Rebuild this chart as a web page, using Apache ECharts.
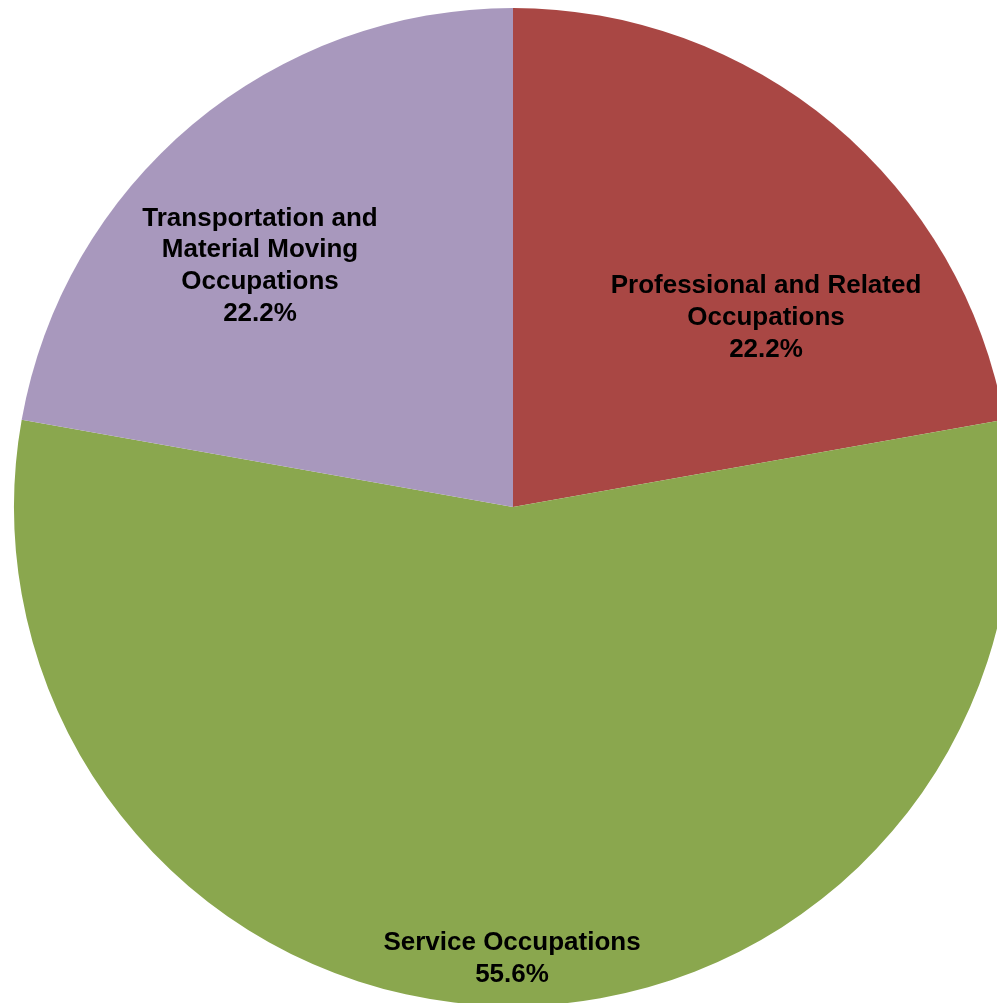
<!DOCTYPE html>
<html>
<head>
<meta charset="utf-8">
<script src="https://cdn.jsdelivr.net/npm/echarts@6/dist/echarts.min.js"></script>
<style>
html,body{margin:0;padding:0;background:#fff;}
#chart{width:997px;height:1003px;}
</style>
</head>
<body>
<div id="chart"></div>
<script>
const categories = ['Professional and Related\nOccupations', 'Service Occupations', 'Transportation and\nMaterial Moving\nOccupations'];
const values = [22.2, 55.6, 22.2];
const colors = ['#A94744', '#8AA74E', '#A898BD'];
const labelPos = [[766, 318], [512, 959], [260, 266]];

const chart = echarts.init(document.getElementById('chart'), null, {renderer: 'canvas'});
chart.setOption({
  animation: false,
  backgroundColor: '#ffffff',
  series: [{
    type: 'pie',
    center: [513, 507],
    radius: [0, 499],
    startAngle: 90,
    clockwise: true,
    data: categories.map((c, i) => ({name: c, value: values[i], itemStyle: {color: colors[i]}})),
    itemStyle: {borderWidth: 0},
    label: {
      show: true,
      position: 'inside',
      formatter: p => p.name + '\n' + p.value.toFixed(1) + '%',
      fontFamily: 'Arial',
      fontWeight: 'bold',
      fontSize: 26,
      lineHeight: 31.7,
      color: '#000',
      align: 'center',
      verticalAlign: 'middle'
    },
    labelLine: {show: false},
    labelLayout: function (params) {
      const p = labelPos[params.dataIndex];
      return {x: p[0], y: p[1], align: 'center', verticalAlign: 'middle'};
    },
    emphasis: {disabled: true}
  }]
});
</script>
</body>
</html>
